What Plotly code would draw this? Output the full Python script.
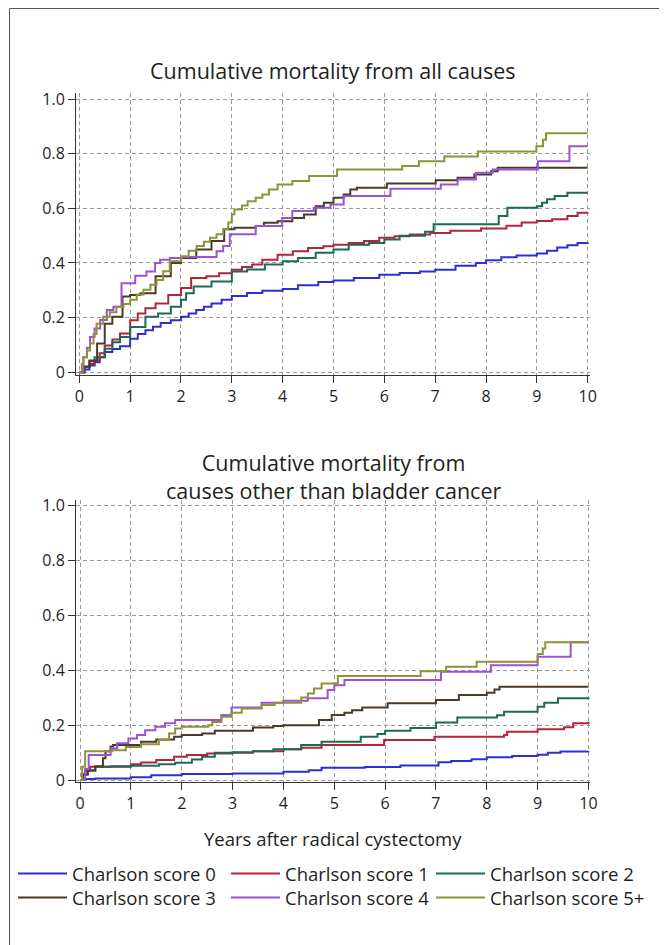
import plotly.graph_objects as go

# ---------------- data ----------------
series_names = ["Charlson score 0", "Charlson score 1", "Charlson score 2",
                "Charlson score 3", "Charlson score 4", "Charlson score 5+"]
series_colors = ["#2f2fd0", "#b3243f", "#1d6b55", "#4a3a2a", "#9a52d8", "#8c9436"]

year_ticks = list(range(0, 11))
y_tick_vals = [0, 0.2, 0.4, 0.6, 0.8, 1.0]
y_tick_text = ["0", "0.2", "0.4", "0.6", "0.8", "1.0"]

# --- cumulative mortality from all causes ---
all_t0 = [0, 0.1, 0.2, 0.3, 0.4, 0.5, 0.65, 0.8, 1.0, 1.15, 1.3, 1.45, 1.6, 1.8, 2.0, 2.15, 2.3, 2.45, 2.6, 2.8, 3.0,
          3.3, 3.6, 4.0, 4.3, 4.7, 5.0, 5.4, 5.9, 6.3, 6.7, 7.0, 7.4, 7.8, 8.0, 8.3, 8.6, 9.0, 9.2, 9.4, 9.6, 9.8, 10.0]
all_v0 = [0, 0.01, 0.025, 0.037, 0.055, 0.074, 0.085, 0.095, 0.123, 0.14, 0.154, 0.167, 0.18, 0.19, 0.203, 0.215,
          0.228, 0.24, 0.252, 0.265, 0.279, 0.29, 0.298, 0.305, 0.318, 0.33, 0.336, 0.345, 0.357, 0.363, 0.369, 0.375,
          0.39, 0.40, 0.41, 0.421, 0.427, 0.435, 0.445, 0.457, 0.465, 0.473, 0.475]

all_t1 = [0, 0.1, 0.2, 0.3, 0.4, 0.5, 0.65, 0.8, 1.0, 1.15, 1.3, 1.5, 1.75, 2.0, 2.2, 2.5, 2.75, 3.0, 3.2, 3.4, 3.6,
          3.9, 4.2, 4.5, 4.8, 5.0, 5.3, 5.6, 5.9, 6.2, 6.5, 6.9, 7.3, 7.9, 8.4, 8.7, 9.0, 9.3, 9.6, 9.8, 10.0]
all_v1 = [0, 0.02, 0.03, 0.043, 0.07, 0.098, 0.12, 0.142, 0.19, 0.215, 0.234, 0.252, 0.283, 0.308, 0.345, 0.351,
          0.362, 0.375, 0.385, 0.394, 0.412, 0.43, 0.443, 0.455, 0.461, 0.467, 0.473, 0.48, 0.492, 0.498, 0.504, 0.51,
          0.518, 0.526, 0.536, 0.548, 0.554, 0.56, 0.572, 0.584, 0.585]

all_t2 = [0, 0.1, 0.2, 0.3, 0.5, 0.65, 0.8, 1.0, 1.3, 1.55, 1.8, 2.0, 2.1, 2.25, 2.6, 3.0, 3.3, 3.65, 4.0, 4.3, 4.65,
          5.0, 5.3, 5.7, 6.0, 6.3, 6.8, 6.97, 8.25, 8.42, 9.0, 9.1, 9.2, 9.35, 9.6, 10.0]
all_v2 = [0, 0.02, 0.04, 0.055, 0.086, 0.11, 0.129, 0.166, 0.203, 0.215, 0.24, 0.265, 0.289, 0.314, 0.332, 0.369,
          0.376, 0.394, 0.406, 0.418, 0.437, 0.449, 0.467, 0.473, 0.486, 0.50, 0.514, 0.542, 0.572, 0.602, 0.608,
          0.62, 0.633, 0.645, 0.657, 0.657]

all_t3 = [0, 0.1, 0.2, 0.35, 0.5, 0.65, 0.85, 1.0, 1.2, 1.5, 1.8, 2.0, 2.3, 2.6, 2.85, 3.05, 3.47, 3.63, 3.9, 4.19,
          4.42, 4.65, 4.81, 5.0, 5.2, 5.33, 5.46, 6.05, 7.01, 7.44, 7.77, 8.1, 8.23, 10.0]
all_v3 = [0, 0.02, 0.043, 0.105, 0.178, 0.203, 0.277, 0.283, 0.289, 0.351, 0.40, 0.418, 0.449, 0.48, 0.523, 0.529,
          0.535, 0.547, 0.553, 0.565, 0.577, 0.608, 0.62, 0.639, 0.651, 0.669, 0.675, 0.691, 0.703, 0.712, 0.724,
          0.736, 0.748, 0.748]

all_t4 = [0, 0.08, 0.15, 0.21, 0.3, 0.41, 0.54, 0.67, 0.83, 1.1, 1.32, 1.49, 1.59, 1.78, 2.02, 2.7, 2.83, 2.96, 3.47,
          3.99, 4.19, 4.61, 4.94, 5.2, 6.12, 7.11, 7.44, 7.8, 8.13, 9.02, 9.64, 10.0]
all_v4 = [0, 0.055, 0.09, 0.129, 0.16, 0.191, 0.228, 0.24, 0.326, 0.353, 0.369, 0.40, 0.412, 0.418, 0.422, 0.443,
          0.462, 0.505, 0.535, 0.565, 0.59, 0.602, 0.614, 0.645, 0.672, 0.687, 0.705, 0.73, 0.742, 0.772, 0.827, 0.827]

all_t5 = [0, 0.05, 0.08, 0.15, 0.21, 0.28, 0.34, 0.47, 0.6, 0.73, 0.87, 1.0, 1.13, 1.26, 1.4, 1.52, 1.65, 1.78, 2.0,
          2.15, 2.31, 2.45, 2.57, 2.7, 2.83, 2.93, 3.0, 3.05, 3.2, 3.31, 3.47, 3.6, 3.73, 3.9, 4.19, 4.52, 5.07, 6.35,
          6.68, 7.18, 7.84, 8.99, 9.12, 9.18, 10.0]
all_v5 = [0, 0.03, 0.055, 0.08, 0.105, 0.14, 0.178, 0.203, 0.22, 0.24, 0.25, 0.265, 0.285, 0.302, 0.32, 0.338, 0.37,
          0.406, 0.425, 0.445, 0.462, 0.478, 0.492, 0.505, 0.523, 0.548, 0.578, 0.596, 0.61, 0.626, 0.639, 0.651,
          0.669, 0.687, 0.70, 0.718, 0.742, 0.755, 0.772, 0.79, 0.808, 0.827, 0.851, 0.875, 0.875]

# --- cumulative mortality from causes other than bladder cancer ---
oth_t0 = [0, 0.1, 0.3, 1.0, 1.4, 2.0, 3.0, 4.0, 4.5, 4.75, 5.6, 6.3, 7.05, 7.3, 7.7, 8.0, 8.5, 9.0, 9.2, 9.45, 10.0]
oth_v0 = [0, 0.004, 0.006, 0.01, 0.018, 0.022, 0.024, 0.03, 0.036, 0.045, 0.048, 0.053, 0.065, 0.07, 0.076, 0.083,
          0.088, 0.092, 0.10, 0.104, 0.105]

oth_t1 = [0, 0.05, 0.15, 0.2, 0.6, 1.0, 1.2, 1.5, 1.85, 2.1, 2.5, 3.0, 3.4, 4.0, 4.35, 4.75, 5.98, 6.97, 8.34, 8.4,
          9.0, 9.52, 9.7, 10.0]
oth_v1 = [0, 0.02, 0.035, 0.049, 0.05, 0.058, 0.064, 0.073, 0.085, 0.091, 0.097, 0.10, 0.105, 0.112, 0.118, 0.128,
          0.146, 0.158, 0.164, 0.176, 0.185, 0.193, 0.207, 0.213]

oth_t2 = [0, 0.05, 0.1, 0.3, 1.0, 1.55, 1.87, 2.2, 2.4, 2.65, 3.0, 3.4, 3.8, 4.35, 4.75, 5.52, 5.85, 6.0, 6.5, 7.0,
          7.42, 8.2, 8.34, 9.0, 9.13, 9.4, 10.0]
oth_v2 = [0, 0.02, 0.035, 0.049, 0.052, 0.058, 0.063, 0.075, 0.085, 0.10, 0.101, 0.105, 0.112, 0.128, 0.14, 0.158,
          0.168, 0.18, 0.19, 0.21, 0.228, 0.236, 0.249, 0.267, 0.282, 0.298, 0.301]

oth_t3 = [0, 0.05, 0.15, 0.3, 0.45, 0.5, 0.6, 0.65, 1.2, 1.5, 1.85, 2.0, 2.4, 2.65, 3.4, 3.8, 4.0, 4.7, 4.95, 5.2,
          5.35, 5.55, 6.05, 7.0, 7.45, 8.0, 8.15, 8.25, 10.0]
oth_v3 = [0, 0.02, 0.035, 0.05, 0.08, 0.105, 0.122, 0.128, 0.14, 0.148, 0.158, 0.164, 0.17, 0.18, 0.192, 0.197, 0.2,
          0.219, 0.237, 0.245, 0.255, 0.265, 0.28, 0.292, 0.31, 0.318, 0.33, 0.34, 0.34]

oth_t4 = [0, 0.1, 0.17, 0.6, 0.73, 0.95, 1.12, 1.28, 1.48, 1.67, 1.87, 2.78, 2.98, 3.57, 4.0, 4.48, 4.87, 5.0, 5.2,
          7.1, 8.08, 9.0, 9.65, 10.0]
oth_v4 = [0, 0.04, 0.091, 0.115, 0.134, 0.152, 0.164, 0.182, 0.194, 0.207, 0.219, 0.237, 0.265, 0.282, 0.289, 0.298,
          0.328, 0.346, 0.365, 0.395, 0.419, 0.45, 0.502, 0.502]

oth_t5 = [0, 0.04, 0.1, 0.63, 0.9, 1.2, 1.55, 1.75, 1.87, 2.0, 2.52, 2.6, 2.78, 2.98, 3.18, 3.57, 3.83, 4.35, 4.48,
          4.6, 4.75, 5.07, 6.7, 7.2, 7.8, 9.0, 9.1, 9.15, 10.0]
oth_v5 = [0, 0.049, 0.105, 0.109, 0.121, 0.131, 0.146, 0.17, 0.188, 0.194, 0.2, 0.212, 0.231, 0.245, 0.261, 0.274,
          0.282, 0.301, 0.316, 0.334, 0.352, 0.379, 0.397, 0.413, 0.431, 0.46, 0.48, 0.502, 0.502]

all_series = [(all_t0, all_v0), (all_t1, all_v1), (all_t2, all_v2),
              (all_t3, all_v3), (all_t4, all_v4), (all_t5, all_v5)]
oth_series = [(oth_t0, oth_v0), (oth_t1, oth_v1), (oth_t2, oth_v2),
              (oth_t3, oth_v3), (oth_t4, oth_v4), (oth_t5, oth_v5)]

top_title = "Cumulative mortality from all causes"
bottom_title = "Cumulative mortality from<br>causes other than bladder cancer"
x_title = "Years after radical cystectomy"

# ---------------- figure ----------------
# all pixel positions below are in figure coordinates (page position minus the 8 px body margin)
W, H = 667, 945
ML, MR, MT, MB = 68, 85, 0, 145
PW = W - ML - MR
PH = H - MT - MB

def px_x(p):
    return (p - ML) / PW

def px_y(q):
    return 1 - (q - MT) / PH

FONT = "Open Sans"
TXT = "#1e1e1e"

# one single-entry legend per slot: 3 columns x 2 rows
legend_ids = ["legend", "legend2", "legend3", "legend4", "legend5", "legend6"]
legend_left = [5, 218, 423, 5, 218, 423]
legend_mid = [866, 866, 866, 890, 890, 890]

fig = go.Figure()
for i, (t, v) in enumerate(all_series):
    fig.add_trace(go.Scatter(x=t, y=v, mode="lines", name=series_names[i],
                             line=dict(shape="hv", width=2, color=series_colors[i]),
                             xaxis="x", yaxis="y", showlegend=True, legend=legend_ids[i]))
for i, (t, v) in enumerate(oth_series):
    fig.add_trace(go.Scatter(x=t, y=v, mode="lines", name=series_names[i],
                             line=dict(shape="hv", width=2, color=series_colors[i]),
                             xaxis="x2", yaxis="y2", showlegend=False))

axis_common = dict(showline=True, linecolor="#333", linewidth=1, ticks="outside", ticklen=7,
                   tickcolor="#333", tickwidth=1, showgrid=True, gridcolor="#9a9a9a", gridwidth=1,
                   griddash="4px,3px", zeroline=False, tickfont=dict(size=16, color=TXT, family=FONT))

legend_common = dict(orientation="v", yanchor="middle", xanchor="left", itemwidth=49,
                     font=dict(size=18.5, color=TXT, family=FONT), bgcolor="rgba(0,0,0,0)",
                     tracegroupgap=0, borderwidth=0)

layout_legends = {}
for i, lid in enumerate(legend_ids):
    layout_legends[lid] = dict(x=px_x(legend_left[i]), y=px_y(legend_mid[i]), **legend_common)

fig.update_layout(
    width=W, height=H,
    paper_bgcolor="white", plot_bgcolor="white",
    margin=dict(l=ML, r=MR, t=MT, b=MB, autoexpand=False),
    font=dict(family=FONT, size=16, color=TXT),
    xaxis=dict(domain=[0, 1], range=[-0.065, 10.045], anchor="y", tickvals=year_ticks, **axis_common),
    yaxis=dict(domain=[px_y(367), px_y(85)], range=[-0.01, 1.022], anchor="x",
               tickvals=y_tick_vals, ticktext=y_tick_text, **axis_common),
    xaxis2=dict(domain=[0, 1], range=[-0.08, 10.03], anchor="y2", tickvals=year_ticks, **axis_common),
    yaxis2=dict(domain=[px_y(774), px_y(492)], range=[-0.007, 1.021], anchor="x2",
                tickvals=y_tick_vals, ticktext=y_tick_text, **axis_common),
    showlegend=True,
    **layout_legends,
)

fig.add_annotation(text=top_title, x=0.5, y=px_y(62), xref="paper", yref="paper",
                   showarrow=False, font=dict(size=21.5, color=TXT, family=FONT), yanchor="middle")
fig.add_annotation(text=bottom_title, x=0.5, y=px_y(468), xref="paper", yref="paper",
                   showarrow=False, font=dict(size=21.5, color=TXT, family=FONT), yanchor="middle")
fig.add_annotation(text=x_title, x=0.5, y=px_y(830), xref="paper", yref="paper",
                   showarrow=False, font=dict(size=18.5, color=TXT, family=FONT), yanchor="middle")

# outer frame (top and left edges)
fig.add_shape(type="line", xref="paper", yref="paper", x0=px_x(1.5), y0=px_y(0.5), x1=px_x(W + 5), y1=px_y(0.5),
              line=dict(color="#555", width=1))
fig.add_shape(type="line", xref="paper", yref="paper", x0=px_x(1.5), y0=px_y(0.5), x1=px_x(1.5), y1=px_y(H + 5),
              line=dict(color="#555", width=1))

fig.write_html("out.html")
